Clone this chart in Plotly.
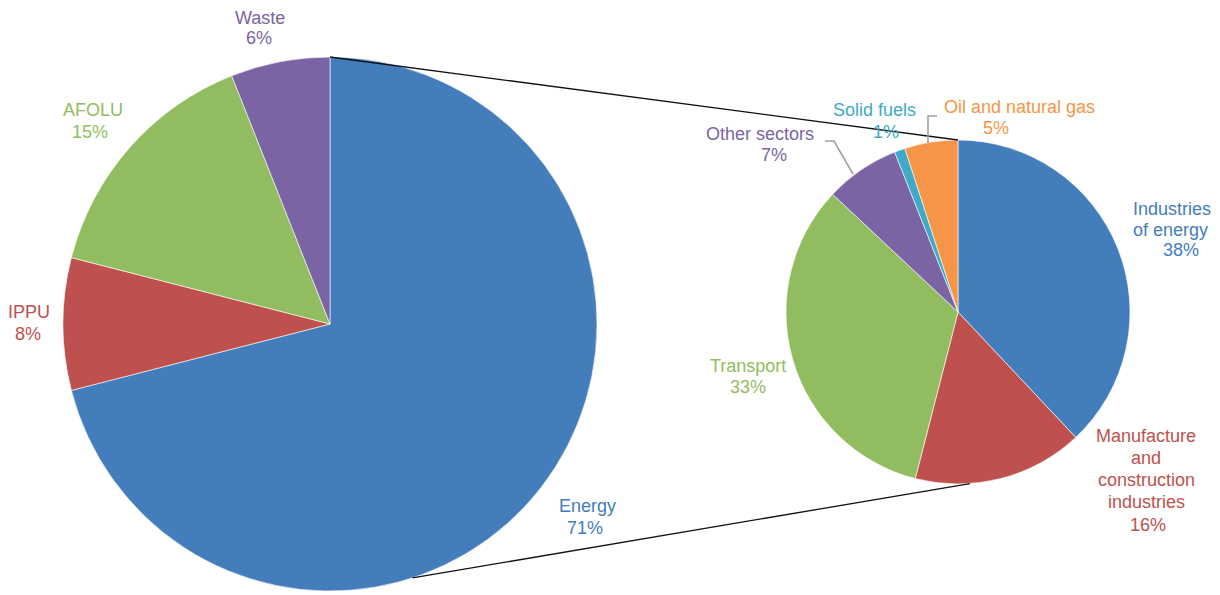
import math
import plotly.graph_objects as go

# ---- data -------------------------------------------------------------
main_sectors = ["Energy", "IPPU", "AFOLU", "Waste"]
main_shares = [71, 8, 15, 6]

energy_subsectors = [
    "Industries of energy",
    "Manufacture and construction industries",
    "Transport",
    "Other sectors",
    "Solid fuels",
    "Oil and natural gas",
]
energy_shares = [38, 16, 33, 7, 1, 5]

# label text split into display lines (value line is appended later)
main_label_lines = [["Energy"], ["IPPU"], ["AFOLU"], ["Waste"]]
energy_label_lines = [
    ["Industries", "of energy"],
    ["Manufacture", "and", "construction", "industries"],
    ["Transport"],
    ["Other sectors"],
    ["Solid fuels"],
    ["Oil and natural gas"],
]

# ---- styling / layout ----------------------------------------------------
W, H = 1220, 595
main_colors = ["#437DBC", "#BE514E", "#92BC60", "#7A64A4"]
energy_colors = ["#437DBC", "#BE514E", "#92BC60", "#7A64A4", "#3FAAC5", "#F69547"]
FONT = "Liberation Sans, Arial, sans-serif"
FONT_SIZE = 18

# pie geometry in pixels: centre and radius
main_center, main_r = (330, 324), 267
sub_center, sub_r = (958, 312), 172

# centre of every text line of each label, in pixels
main_label_pos = [
    [(587, 506), (585, 527.5)],
    [(29, 312), (28, 334)],
    [(92.5, 110), (90, 132)],
    [(259.5, 17.5), (259, 38.5)],
]
energy_label_pos = [
    [(1172, 208.5), (1170, 230), (1180.5, 250)],
    [(1146, 435.5), (1146, 457.5), (1146, 479.5), (1146, 502), (1148, 524.5)],
    [(748, 365.5), (747.5, 387)],
    [(760, 134), (773.5, 155)],
    [(874.5, 110), (885.5, 131.5)],
    [(1019.5, 107), (996.5, 127.5)],
]

# elbow leader lines for the crowded small slices (pixel paths)
leader_paths = [
    [(825, 141), (834, 141), (853, 174)],
    [(928, 143), (928, 116), (937, 116)],
]


def fx(x):
    return x / W


def fy(y):
    return 1 - y / H


def domain(center, r):
    cx, cy = center
    return dict(x=[fx(cx - r), fx(cx + r)], y=[fy(cy + r), fy(cy - r)])


def rim_point(center, r, deg):
    # angle measured clockwise from 12 o'clock
    a = math.radians(deg)
    return center[0] + r * math.sin(a), center[1] - r * math.cos(a)


fig = go.Figure()

fig.add_trace(go.Pie(
    labels=main_sectors, values=main_shares, sort=False,
    direction="clockwise", rotation=0,
    marker=dict(colors=main_colors, line=dict(color="white", width=0.6)),
    textinfo="none", hoverinfo="label+percent",
    domain=domain(main_center, main_r), showlegend=False,
))

fig.add_trace(go.Pie(
    labels=energy_subsectors, values=energy_shares, sort=False,
    direction="clockwise", rotation=0,
    marker=dict(colors=energy_colors, line=dict(color="white", width=0.6)),
    textinfo="none", hoverinfo="label+percent",
    domain=domain(sub_center, sub_r), showlegend=False,
))

annotations = []


def add_labels(line_sets, values, positions, colors):
    for lines, val, pos, col in zip(line_sets, values, positions, colors):
        for text, (x, y) in zip(lines + [f"{val}%"], pos):
            annotations.append(dict(
                x=fx(x), y=fy(y), xref="paper", yref="paper",
                text=text, showarrow=False, xanchor="center", yanchor="middle",
                font=dict(family=FONT, size=FONT_SIZE, color=col),
            ))


add_labels(main_label_lines, main_shares, main_label_pos, main_colors)
add_labels(energy_label_lines, energy_shares, energy_label_pos, energy_colors)

shapes = []
# connector lines from the Energy slice to the breakdown pie
for a_main, a_sub in [(0, 0), (162, 176)]:
    x0, y0 = rim_point(main_center, main_r, a_main)
    x1, y1 = rim_point(sub_center, sub_r, a_sub)
    shapes.append(dict(
        type="line", xref="paper", yref="paper",
        x0=fx(x0), y0=fy(y0), x1=fx(x1), y1=fy(y1),
        line=dict(color="#111111", width=1.3), layer="above",
    ))

for path in leader_paths:
    d = "M " + " L ".join(f"{fx(x)},{fy(y)}" for x, y in path)
    shapes.append(dict(
        type="path", xref="paper", yref="paper", path=d,
        line=dict(color="#A0A0A0", width=1.6), layer="above",
    ))

fig.update_layout(
    width=W, height=H,
    margin=dict(l=0, r=0, t=0, b=0),
    paper_bgcolor="white", plot_bgcolor="white",
    annotations=annotations, shapes=shapes,
    font=dict(family=FONT, size=FONT_SIZE),
)

fig.write_html("out.html")
